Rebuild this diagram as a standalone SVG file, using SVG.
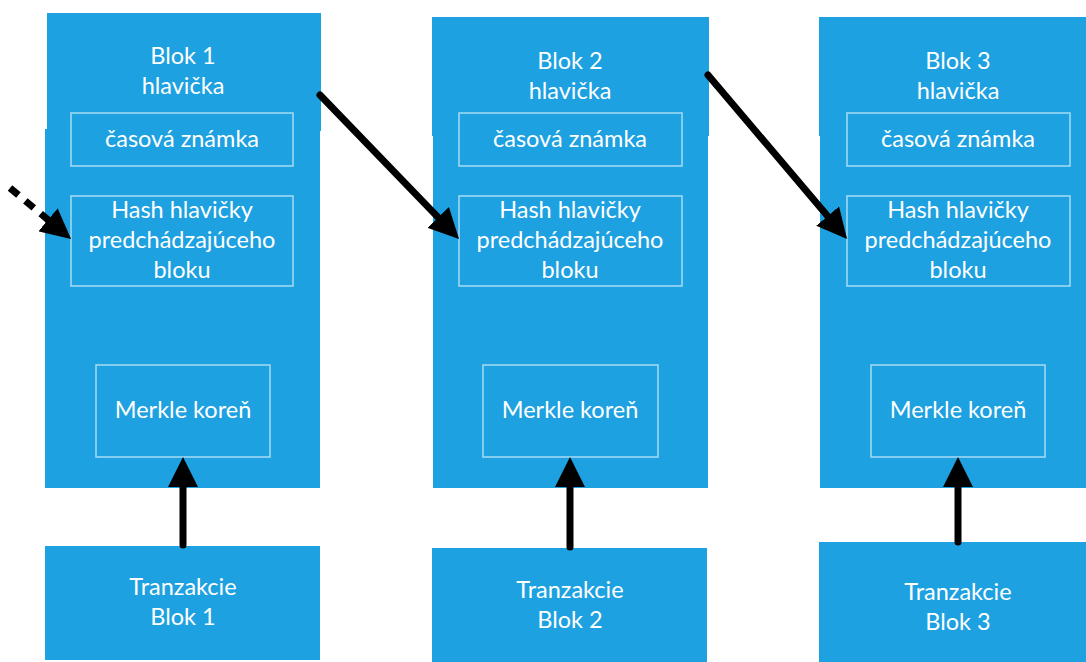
<svg xmlns="http://www.w3.org/2000/svg" width="1086" height="662" viewBox="0 0 1086 662">
  <defs>
    <style>
      .blk { fill: #1DA1E1; }
      .inner { fill: none; stroke: #A8DBF4; stroke-width: 1.5; }
      .lbl { font-family: Lato, "Open Sans", "Liberation Sans", sans-serif; font-size: 23.5px; fill: #FFFFFF; text-anchor: middle; }
      .conn { stroke: #000000; stroke-width: 7; stroke-linecap: round; fill: none; }
      .dash { stroke-dasharray: 11 9; stroke-linecap: butt; }
    </style>
    <!-- tip sits 20px beyond the end of the line so the round cap stays hidden -->
    <marker id="head" viewBox="0 0 30 30" refX="10" refY="15" markerWidth="30" markerHeight="30" orient="auto" markerUnits="userSpaceOnUse">
      <path d="M0,0 L30,15 L0,30 Z" fill="#000000"/>
    </marker>
  </defs>
  <rect width="1086" height="662" fill="#FFFFFF"/>

  <!-- Block 1 -->
  <g id="block1">
    <rect class="blk" x="47" y="13" width="274" height="118"/>
    <rect class="blk" x="45" y="129" width="275" height="359"/>
    <text class="lbl" x="183" y="64">Blok 1</text>
    <text class="lbl" x="183" y="94">hlavička</text>
    <rect class="inner" x="71" y="113" width="222" height="53"/>
    <text class="lbl" x="182" y="147">časová známka</text>
    <rect class="inner" x="71" y="196" width="222" height="90"/>
    <text class="lbl" x="182" y="218">Hash hlavičky</text>
    <text class="lbl" x="182" y="248">predchádzajúceho</text>
    <text class="lbl" x="182" y="278">bloku</text>
    <rect class="inner" x="96" y="365" width="174" height="92"/>
    <text class="lbl" x="183" y="418">Merkle koreň</text>
  </g>
  <g id="tx1">
    <rect class="blk" x="45" y="546" width="275" height="114"/>
    <text class="lbl" x="183" y="595">Tranzakcie</text>
    <text class="lbl" x="183" y="625">Blok 1</text>
  </g>

  <!-- Block 2 -->
  <g id="block2">
    <rect class="blk" x="432" y="17" width="277" height="119"/>
    <rect class="blk" x="433" y="134" width="275" height="354"/>
    <text class="lbl" x="570" y="69">Blok 2</text>
    <text class="lbl" x="570" y="99">hlavička</text>
    <rect class="inner" x="459" y="113" width="223" height="53"/>
    <text class="lbl" x="570" y="147">časová známka</text>
    <rect class="inner" x="459" y="196" width="223" height="90"/>
    <text class="lbl" x="570" y="218">Hash hlavičky</text>
    <text class="lbl" x="570" y="248">predchádzajúceho</text>
    <text class="lbl" x="570" y="278">bloku</text>
    <rect class="inner" x="483" y="365" width="175" height="92"/>
    <text class="lbl" x="570" y="418">Merkle koreň</text>
  </g>
  <g id="tx2">
    <rect class="blk" x="432" y="548" width="275" height="114"/>
    <text class="lbl" x="570" y="598">Tranzakcie</text>
    <text class="lbl" x="570" y="628">Blok 2</text>
  </g>

  <!-- Block 3 -->
  <g id="block3">
    <rect class="blk" x="819" y="17" width="267" height="119"/>
    <rect class="blk" x="820" y="134" width="266" height="354"/>
    <text class="lbl" x="958" y="69">Blok 3</text>
    <text class="lbl" x="958" y="99">hlavička</text>
    <rect class="inner" x="847" y="113" width="223" height="53"/>
    <text class="lbl" x="958" y="147">časová známka</text>
    <rect class="inner" x="847" y="196" width="223" height="90"/>
    <text class="lbl" x="958" y="218">Hash hlavičky</text>
    <text class="lbl" x="958" y="248">predchádzajúceho</text>
    <text class="lbl" x="958" y="278">bloku</text>
    <rect class="inner" x="871" y="365" width="174" height="92"/>
    <text class="lbl" x="958" y="418">Merkle koreň</text>
  </g>
  <g id="tx3">
    <rect class="blk" x="819" y="542" width="267" height="120"/>
    <text class="lbl" x="958" y="600">Tranzakcie</text>
    <text class="lbl" x="958" y="630">Blok 3</text>
  </g>

  <!-- Connectors -->
  <g id="connectors">
    <line class="conn dash" x1="10" y1="188" x2="55.7" y2="226.2" marker-end="url(#head)"/>
    <line class="conn" x1="320" y1="95" x2="445.1" y2="224.6" marker-end="url(#head)"/>
    <line class="conn" x1="708" y1="75" x2="834.1" y2="223.7" marker-end="url(#head)"/>
    <line class="conn" x1="183" y1="545" x2="183" y2="477" marker-end="url(#head)"/>
    <line class="conn" x1="570" y1="547" x2="570" y2="477" marker-end="url(#head)"/>
    <line class="conn" x1="958" y1="542" x2="958" y2="477" marker-end="url(#head)"/>
  </g>
</svg>
